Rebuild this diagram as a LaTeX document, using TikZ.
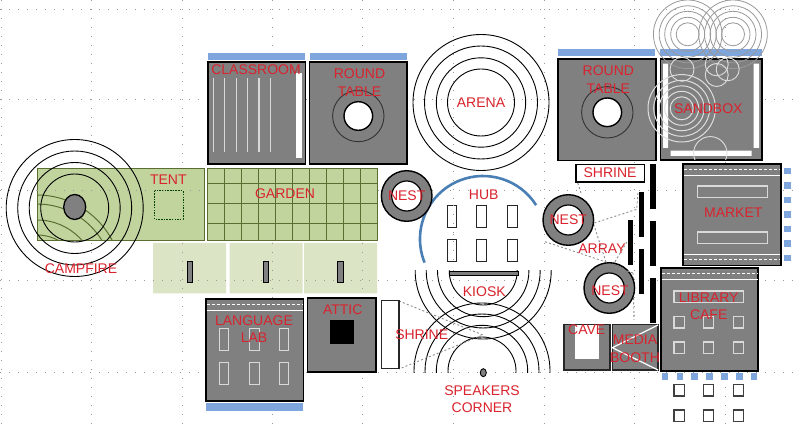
\documentclass[tikz,border=0pt]{standalone}
\usepackage{fontspec}
\setmainfont{Liberation Sans}
\definecolor{lbl}{HTML}{D9232E}
\definecolor{grayfill}{HTML}{808080}
\definecolor{barblue}{HTML}{7FA6DC}
\definecolor{hubblue}{HTML}{4A7FB5}
\definecolor{gfill}{HTML}{C2D49E}
\definecolor{gline}{HTML}{5A6E32}
\definecolor{gpale}{HTML}{DBE5C5}
\tikzset{
 lab/.style={text=lbl,font=\fontsize{14}{17.5}\selectfont,align=center,inner sep=0pt},
 room/.style={draw=black,line width=1.6pt,fill=grayfill},
 bar/.style={fill=barblue,draw=none},
 griddot/.style={draw=black!40,line width=1pt,dash pattern=on 1.2pt off 7.8pt},
 link/.style={draw=black!45,line width=0.9pt,dash pattern=on 2pt off 2.2pt},
 ringline/.style={draw=black,line width=0.9pt},
 white box/.style={draw=white!85!black,line width=1pt},
 nestring/.style={draw=black,line width=1.4pt,fill=grayfill},
}
\begin{document}
\begin{tikzpicture}[x=1pt,y=-1pt]
\useasboundingbox[fill=white] (0,0) rectangle (800,427);
% grid
\foreach \x in {1,91,182,272,362,453,544,634,725} \draw[griddot] (\x,0) -- (\x,427);
\foreach \y in {10,100,191,281,372} \draw[griddot] (0,\y) -- (800,\y);
% green
\fill[gpale] (153,243) rectangle (226,293.5) (229.5,243) rectangle (302.5,293.5) (304,243) rectangle (377,293.5);
\draw[griddot] (182,243) -- (182,293.5) (272,243) -- (272,293.5) (362,243) -- (362,293.5) (153,281) -- (377,281);
\foreach \x in {187,263,337.5}
  \draw[fill=grayfill,draw=black,line width=0.9pt] (\x,261) rectangle (\x+5.5,282);
\draw[fill=gfill,draw=gline,line width=0.8pt] (37,168.5) rectangle (204,240);
\draw[griddot] (37,191) -- (204,191);
\begin{scope}
\clip (37,168.5) rectangle (204,240);
\foreach \r in {85,76,60,45} \draw[gline,line width=1pt] (37,280) circle[radius=\r];
\end{scope}
\draw[black!75!green,line width=0.9pt,dash pattern=on 1.5pt off 1.2pt] (154.5,190.7) rectangle (183,219.3);
\draw[fill=gfill,draw=gline,line width=0.8pt] (207.5,168) rectangle (377.5,240);
\foreach \i in {1,...,9} \draw[gline,line width=0.8pt] (207.5+17*\i,168) -- (207.5+17*\i,240);
\foreach \y in {183,203,223} \draw[gline,line width=0.8pt] (207.5,\y) -- (377.5,\y);
% campfire
\foreach \r in {34,45.5,57,68.5} \draw[ringline] (74.7,208) circle[radius=\r];
\draw[fill=grayfill,draw=black,line width=1.3pt] (74.7,207) ellipse[x radius=11,y radius=12.5];
% classroom
\fill[bar] (208,53) rectangle (305,60);
\draw[room] (208,62) rectangle (305.5,164);
\foreach \x in {213.3,224.7,236.7,247.7,259,270.3} \draw[black!15,line width=1.4pt] (\x,78) -- (\x,152);
\fill[white] (296,73) rectangle (301.7,158);
% round table 1
\fill[bar] (310,53) rectangle (406.5,60);
\draw[room] (309.3,62) rectangle (406.7,164);
\draw[draw=black!80,line width=0.9pt] (358.3,116) circle[radius=25.7];
\draw[fill=white,draw=black,line width=1.4pt] (358.3,116) circle[radius=14.3];
% arena
\foreach \r in {68,56.5,44.7,33.5} \draw[ringline] (481,102.5) circle[radius=\r];
% hub
\draw[hubblue,line width=2.6pt] (483,239) ++(158:63) arc[start angle=158,end angle=327.5,radius=63];
\foreach \x/\w in {447.7/8.6,476.7/9.6,507.3/9.7} \foreach \y in {205.3,239.3}
  \draw[draw=black!85,line width=0.7pt,fill=white] (\x,\y) rectangle (\x+\w,\y+22.4);
\draw[griddot] (453,205) -- (453,262);
% kiosk arcs
\begin{scope}
\clip (400,271) rectangle (560,372);
\foreach \r in {34,45.7,57,68} \draw[ringline] (483.2,271) circle[radius=\r];
\foreach \r in {34,45.7,57,68} \draw[ringline] (482,371) circle[radius=\r];
\end{scope}
\draw[fill=grayfill,draw=black,line width=0.8pt] (449.3,271) rectangle (518,275.7);
\draw[fill=grayfill,draw=black,line width=0.9pt] (483.3,372.7) ellipse[x radius=3,y radius=4];
% left shrine
\coordinate (sh1) at (399,301);
\coordinate (sh2) at (399,369);
\coordinate (sh3) at (483,335);
\draw[link] (sh1) -- (sh3) -- (sh2);
\draw[draw=black!85,line width=1.1pt,fill=white] (381.3,300.7) rectangle (399,368.7);
% language lab
\fill[bar] (206,403.3) rectangle (303,411);
\draw[room] (205.7,299) rectangle (303.3,400.7);
\draw[white,line width=0.9pt,dash pattern=on 3pt off 2pt] (206.5,304.7) -- (302.5,304.7);
\draw[white,line width=0.9pt] (206.5,310) -- (302.5,310);
\foreach \x/\w in {219/9.3,249.3/9.7,279.3/9} \foreach \y in {328.3,362}
  \draw[white box] (\x,\y) rectangle (\x+\w,\y+22);
% attic
\draw[room] (307.3,298.3) rectangle (376,372);
\fill[black] (330,320.3) rectangle (353.7,344);
% right round table
\fill[bar] (558,49.3) rectangle (655,56.3);
\draw[room] (558,59) rectangle (655.7,160.7);
\draw[draw=black!80,line width=0.9pt] (607.3,112.3) circle[radius=25.7];
\draw[fill=white,draw=black,line width=1.4pt] (607.3,112.3) circle[radius=14.3];
% sandbox
\fill[bar] (660,49.3) rectangle (762,56.3);
\draw[room] (660.3,59) rectangle (762,160);
\fill[white] (663,63.7) rectangle (668,148) (753.7,63.7) rectangle (759,148) (670.7,150.7) rectangle (751.7,156);
\foreach \c in {687.7,733} \foreach \r in {34.3,28.5,23,17,11.5}
  \draw[black!40,line width=0.8pt] (\c,34.3) circle[radius=\r];
\foreach \r in {33.7,28,22.5,17,11.5} \draw[black!13,line width=1pt] (681.7,108.3) circle[radius=\r];
\begin{scope}
\clip (660.3,59) rectangle (762,160);
\draw[black!13,line width=0.9pt] (682,69.3) circle[radius=12];
\draw[black!13,line width=0.9pt] (716.7,64.3) circle[radius=11.5];
\draw[black!13,line width=0.9pt] (727.7,69.3) circle[radius=11.5];
\draw[black!13,line width=0.9pt] (716.7,75) circle[radius=11.5];
\draw[black!13,line width=0.9pt] (710.3,153.3) circle[radius=16.7];
\end{scope}
% array links
\coordinate (l0) at (577.7,183);
\coordinate (l1) at (581.7,195);
\coordinate (l2) at (638,193);
\coordinate (l3) at (636.7,209.3);
\coordinate (l4) at (593.3,223.3);
\coordinate (l5) at (606,262);
\coordinate (l6) at (545,241.7);
\coordinate (l7) at (615,261.7);
\coordinate (l8) at (628,240);
\coordinate (l9) at (606.7,265);
\coordinate (l10) at (633,273);
\coordinate (l11) at (634,320);
\draw[link] (l0) -- (l1) (l2) -- (l3) -- (l4) -- (l5) (l6) -- (l5) (l7) -- (l8) (l10) -- (l11);
% right shrine and array
\draw[draw=black,line width=1.1pt,fill=white] (576,164.7) rectangle (644.3,182);
\foreach \x/\a/\b in {650.3/164/209,650.3/221.3/266,650.3/277.7/322.7,638.7/192.3/237.3,638.7/248.7/294,627.7/220.3/265.3}
  \fill[black] (\x,\a) rectangle (\x+5.5,\b);
% nests
\foreach \c in {(406.7,196),(568.3,220),(609.3,288)} {
  \draw[nestring] \c circle[radius=25.3];
  \draw[fill=white,draw=black,line width=1.2pt] \c circle[radius=15];
}
\draw[link] (l9) -- (l10);
% market
\draw[room] (683,164) rectangle (780.7,265.7);
\draw[white,line width=0.9pt,dash pattern=on 3pt off 2pt] (684,169.3) -- (780,169.3) (684,259.3) -- (780,259.3);
\draw[white,line width=0.9pt] (684,175) -- (780,175) (684,254.3) -- (780,254.3);
\draw[black!15,line width=1.1pt] (697.7,186) rectangle (767.3,197.3) (697.7,232) rectangle (767.3,243.3);
\foreach \y in {171,185.7,200,214.7,229,243.7,258} \fill[barblue] (784,\y-3.3) rectangle (790.7,\y+3.3);
% library
\draw[room] (660.7,268.3) rectangle (758,370.7);
\draw[white,line width=0.9pt,dash pattern=on 3pt off 2pt] (661.5,273.3) -- (757.5,273.3);
\draw[white,line width=0.9pt] (661.5,279.3) -- (757.5,279.3);
\draw[black!15,line width=1.1pt] (674,291) rectangle (743.3,302.3);
\foreach \x in {674,703.3,733.3} \foreach \y in {316.7,342}
  \draw[black!15,line width=1.1pt] (\x,\y) rectangle (\x+10.4,\y+11.3);
\foreach \x in {665,680,694.7,709.7,724.3,739.3,754} \fill[barblue] (\x-3.3,373) rectangle (\x+3.3,379.5);
\foreach \x in {674,703.3,733.3} \foreach \y in {384.7,410}
  \draw[black!75,line width=1.1pt,fill=white] (\x,\y) rectangle (\x+10.4,\y+11.3);
% cave
\draw[draw=black!85,line width=1.2pt,fill=grayfill] (564,324.3) rectangle (610,370);
\fill[white] (575,325) rectangle (599.3,359.3);
% media booth
\draw[draw=black!85,line width=1.2pt,fill=grayfill] (612.3,324.3) rectangle (658,370);
\draw[white,line width=1.2pt] (658,325) -- (612.3,347.7) -- (658,370);
% labels
\node[lab] (lclass) at (256,70) {CLASSROOM};
\node[lab] (lrt1) at (359.5,82.8) {ROUND\\TABLE};
\node[lab] (larena) at (481,103) {ARENA};
\node[lab] (lrt2) at (608.3,79.7) {ROUND\\TABLE};
\node[lab] (lsand) at (708.3,108.3) {SANDBOX};
\node[lab] (ltent) at (168.3,180) {TENT};
\node[lab] (lgarden) at (285,194) {GARDEN};
\node[lab] (lcamp) at (81,268.3) {CAMPFIRE};
\node[lab] (lnest1) at (406.7,196) {NEST};
\node[lab] (lhub) at (483.7,194.3) {HUB};
\node[lab] (lshr2) at (610,172.3) {SHRINE};
\node[lab] (lnest2) at (568.3,219.3) {NEST};
\node[lab] (larray) at (602,249) {ARRAY};
\node[lab] (lnest3) at (610,290.7) {NEST};
\node[lab] (lkiosk) at (484.3,291.7) {KIOSK};
\node[lab] (lmarket) at (733.3,212.3) {MARKET};
\node[lab] (llib) at (708.7,306.5) {LIBRARY\\CAFE};
\node[lab] (lcave) at (586.7,330) {CAVE};
\node[lab] (lmedia) at (635,348.8) {MEDIA\\BOOTH};
\node[lab] (llang) at (254,329.2) {LANGUAGE\\LAB};
\node[lab] (lattic) at (342.7,310) {ATTIC};
\node[lab] (lshr1) at (421.7,335) {SHRINE};
\node[lab] (lspeak) at (482,399) {SPEAKERS\\CORNER};
\end{tikzpicture}
\end{document}
